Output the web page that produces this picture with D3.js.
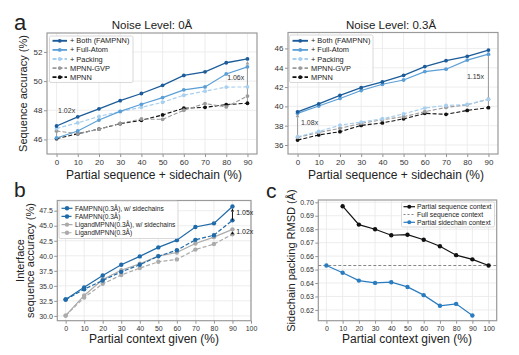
<!DOCTYPE html>
<html>
<head>
<meta charset="utf-8">
<script src="https://cdn.jsdelivr.net/npm/d3@7"></script>
<style>
  body { margin: 0; background: #fff; }
  svg { display: block; font-family: "Liberation Sans", Arial, Helvetica, sans-serif; }
</style>
</head>
<body>
<script>
// ---------------- DATA ----------------
const xA = [0, 10, 20, 30, 40, 50, 60, 70, 80, 90];
const xTicksA = [0, 10, 20, 30, 40, 50, 60, 70, 80, 90];
const yTicksALeft = [46, 48, 50, 52];
const yTicksARight = [36, 38, 40, 42, 44, 46];

const leftBoth     = [46.92, 47.55, 48.10, 48.66, 49.15, 49.71, 50.39, 50.64, 51.26, 51.52];
const leftFullAtom = [46.10, 46.58, 47.33, 47.92, 48.41, 48.87, 49.40, 49.60, 50.49, 50.98];
const leftPacking  = [46.75, 47.14, 47.58, 47.91, 48.20, 48.55, 49.03, 49.31, 49.59, 49.60];
const leftGvp      = [46.58, 46.39, 46.70, 47.10, 47.40, 47.38, 48.00, 48.46, 48.23, 48.97];
const leftMpnn     = [46.05, 46.39, 46.71, 47.08, 47.31, 47.68, 48.14, 48.20, 48.39, 48.48];

const rightBoth     = [39.44, 40.27, 41.15, 41.94, 42.53, 43.22, 44.12, 44.73, 45.18, 45.83];
const rightFullAtom = [39.28, 40.04, 40.82, 41.64, 42.29, 42.73, 43.60, 43.85, 44.79, 45.41];
const rightPacking  = [36.86, 37.40, 38.05, 38.38, 38.72, 39.22, 39.83, 40.09, 40.20, 40.75];
const rightGvp      = [36.79, 37.30, 37.73, 38.24, 38.62, 38.93, 39.45, 39.89, 40.17, 40.74];
const rightMpnn     = [36.51, 37.04, 37.38, 38.03, 38.29, 38.71, 39.28, 39.18, 39.58, 39.87];

const seriesNamesA = ["+ Both (FAMPNN)", "+ Full-Atom", "+ Packing", "MPNN-GVP", "MPNN"];

const xB = [0, 10, 20, 30, 40, 50, 60, 70, 80, 90];
const xTicksBC = [0, 10, 20, 30, 40, 50, 60, 70, 80, 90, 100];
const yTicksB = [30.0, 32.5, 35.0, 37.5, 40.0, 42.5, 45.0, 47.5];
const fampnnSc = [32.72, 34.75, 36.71, 38.50, 39.90, 41.40, 42.60, 44.80, 45.40, 48.20];
const fampnn   = [32.72, 34.43, 35.90, 37.33, 38.50, 39.93, 40.93, 42.65, 43.43, 45.90];
const ligandSc = [30.05, 33.40, 36.05, 37.60, 38.67, 39.95, 40.55, 42.05, 43.10, 44.40];
const ligand   = [30.05, 33.05, 35.33, 36.80, 37.95, 39.00, 39.40, 41.03, 41.95, 43.57];
const seriesNamesB = ["FAMPNN(0.3Å), w/ sidechains", "FAMPNN(0.3Å)", "LigandMPNN(0.3Å), w/ sidechains", "LigandMPNN(0.3Å)"];

const xSeq = [10, 20, 30, 40, 50, 60, 70, 80, 90, 100];
const seqContext = [0.6971, 0.6834, 0.6800, 0.6755, 0.6759, 0.6722, 0.6673, 0.6607, 0.6576, 0.6530];
const xSide = [0, 10, 20, 30, 40, 50, 60, 70, 80, 90];
const sideContext = [0.6530, 0.6476, 0.6418, 0.6401, 0.6406, 0.6371, 0.6310, 0.6231, 0.6245, 0.6159];
const fullSeqContext = 0.653;
const yTicksC = [0.62, 0.63, 0.64, 0.65, 0.66, 0.67, 0.68, 0.69, 0.70];
const seriesNamesC = ["Partial sequence context", "Full sequence context", "Partial sidechain context"];

// ---------------- DRAWING ----------------
const svg = d3.select("body").append("svg").attr("width", 519).attr("height", 355);
const TXT = "#222";

function makeAxes(o) {
  const x = d3.scaleLinear().domain(o.xdom).range([o.x0, o.x1]);
  const y = d3.scaleLinear().domain(o.ydom).range([o.y1, o.y0]);
  const g = svg.append("g");
  // grid
  g.selectAll(".gx").data(o.xticks).enter().append("line")
    .attr("x1", d => x(d)).attr("x2", d => x(d)).attr("y1", o.y0).attr("y2", o.y1)
    .attr("stroke", "#e8e8e8").attr("stroke-width", 0.8);
  g.selectAll(".gy").data(o.yticks).enter().append("line")
    .attr("y1", d => y(d)).attr("y2", d => y(d)).attr("x1", o.x0).attr("x2", o.x1)
    .attr("stroke", "#e8e8e8").attr("stroke-width", 0.8);
  // axes
  const ax = g.append("g").attr("transform", `translate(0,${o.y1})`)
    .call(d3.axisBottom(x).tickValues(o.xticks).tickSize(3).tickPadding(2).tickFormat(d3.format("d")));
  const ay = g.append("g").attr("transform", `translate(${o.x0},0)`)
    .call(d3.axisLeft(y).tickValues(o.yticks).tickSize(3).tickPadding(1.5).tickFormat(o.yfmt));
  [ax, ay].forEach(a => {
    a.select(".domain").remove();
    a.selectAll(".tick line").attr("stroke", "#777").attr("stroke-width", 0.8);
    a.selectAll(".tick text").attr("fill", "#333").style("font-size", o.tickFont + "px")
      .style("font-family", "'Liberation Sans', Arial, sans-serif");
  });
  // frame
  g.append("rect").attr("x", o.x0).attr("y", o.y0).attr("width", o.x1 - o.x0).attr("height", o.y1 - o.y0)
    .attr("fill", "none").attr("stroke", "#9a9a9a").attr("stroke-width", 1.2);
  return { x, y, g };
}

function drawSeries(ax, xs, ys, st) {
  const line = d3.line().x((d, i) => ax.x(xs[i])).y(d => ax.y(d));
  ax.g.append("path").datum(ys).attr("d", line).attr("fill", "none")
    .attr("stroke", st.color).attr("stroke-width", st.width)
    .attr("stroke-dasharray", st.dash || null);
  ax.g.selectAll(null).data(ys).enter().append("circle")
    .attr("cx", (d, i) => ax.x(xs[i])).attr("cy", d => ax.y(d)).attr("r", st.r).attr("fill", st.color);
}

function legend(box, items, font) {
  const g = svg.append("g");
  g.append("rect").attr("x", box.x).attr("y", box.y).attr("width", box.w).attr("height", box.h)
    .attr("rx", 1.5).attr("fill", "#fff").attr("fill-opacity", 0.85).attr("stroke", "#cfcfcf").attr("stroke-width", 0.8);
  items.forEach((it, i) => {
    const yy = box.firstY + i * box.step;
    g.append("line").attr("x1", box.hx0).attr("x2", box.hx1).attr("y1", yy).attr("y2", yy)
      .attr("stroke", it.color).attr("stroke-width", it.width).attr("stroke-dasharray", it.dash || null);
    if (it.r) g.append("circle").attr("cx", (box.hx0 + box.hx1) / 2).attr("cy", yy).attr("r", it.r).attr("fill", it.color);
    g.append("text").attr("x", box.tx).attr("y", yy).attr("dy", "0.35em").attr("fill", TXT)
      .style("font-size", font + "px").text(it.label);
  });
}

function upArrow(ax, xv, yLow, yHigh, color, head, width) {
  const px = ax.x(xv), pLow = ax.y(yLow), tip = ax.y(yHigh) + 2;
  ax.g.append("line").attr("x1", px).attr("x2", px).attr("y1", pLow).attr("y2", tip + head)
    .attr("stroke", color).attr("stroke-width", width);
  ax.g.append("path").attr("d", `M${px},${tip} L${px - head * 0.55},${tip + head} L${px + head * 0.55},${tip + head} Z`)
    .attr("fill", color);
}

function text(x, y, s, size, opts = {}) {
  const t = svg.append("text").attr("x", x).attr("y", y).attr("fill", opts.fill || TXT)
    .style("font-size", size + "px").attr("text-anchor", opts.anchor || "start").text(s);
  if (opts.rotate) t.attr("transform", `rotate(-90,${x},${y})`);
  return t;
}

// styles for panel a
const C_BOTH = "#1c5c9a", C_FULL = "#5b9fd6", C_PACK = "#a9cfee", C_GVP = "#9a9a9a", C_MPNN = "#111";
const stylesA = [
  { color: C_BOTH, width: 1.3, r: 1.9 },
  { color: C_FULL, width: 1.2, r: 1.9 },
  { color: C_PACK, width: 1.2, r: 1.9, dash: "4,2" },
  { color: C_GVP, width: 1.1, r: 1.9, dash: "4,2" },
  { color: C_MPNN, width: 1.1, r: 1.9, dash: "4,2" }
];

// ---- Panel a left ----
const aL = makeAxes({ x0: 47, x1: 257, y0: 33, y1: 154, xdom: [-4.5, 94.5], ydom: [45.0, 53.3],
  xticks: xTicksA, yticks: yTicksALeft, yfmt: d3.format("d"), tickFont: 8 });
upArrow(aL, 0, leftMpnn[0], leftBoth[0], "#a0a0a0", 3.5, 1.1);
upArrow(aL, 90, leftMpnn[9], leftBoth[9], "#a0a0a0", 3.5, 1.1);
[leftMpnn, leftGvp, leftPacking, leftFullAtom, leftBoth].forEach((s, i) => drawSeries(aL, xA, s, stylesA[4 - i]));
aL.g.append("text").attr("x", aL.x(0.7)).attr("y", aL.y(47.84)).attr("fill", "#333").style("font-size", "7px").text("1.02x");
aL.g.append("text").attr("x", aL.x(88.5)).attr("y", aL.y(50.07)).attr("fill", "#333").attr("text-anchor", "end").style("font-size", "7px").text("1.06x");
legend({ x: 49.5, y: 36, w: 83.5, h: 46.5, firstY: 40.8, step: 9.1, hx0: 52.5, hx1: 67, tx: 70 },
  seriesNamesA.map((l, i) => ({ label: l, ...stylesA[i], width: stylesA[i].width + 0.6 })), 7.4);

// ---- Panel a right ----
const aR = makeAxes({ x0: 288, x1: 498, y0: 32.5, y1: 154, xdom: [-4.5, 94.5], ydom: [35.07, 47.65],
  xticks: xTicksA, yticks: yTicksARight, yfmt: d3.format("d"), tickFont: 8 });
upArrow(aR, 0, rightMpnn[0], rightBoth[0], "#a0a0a0", 3.5, 1.1);
upArrow(aR, 90, rightMpnn[9], rightBoth[9], "#a0a0a0", 3.5, 1.1);
[rightMpnn, rightGvp, rightPacking, rightFullAtom, rightBoth].forEach((s, i) => drawSeries(aR, xA, s, stylesA[4 - i]));
aR.g.append("text").attr("x", aR.x(1.65)).attr("y", aR.y(38.1)).attr("fill", "#333").style("font-size", "7px").text("1.08x");
aR.g.append("text").attr("x", aR.x(87.9)).attr("y", aR.y(42.8)).attr("fill", "#333").attr("text-anchor", "end").style("font-size", "7px").text("1.15x");
legend({ x: 289.5, y: 35, w: 83.5, h: 47.5, firstY: 40.8, step: 9.1, hx0: 292.5, hx1: 308, tx: 311 },
  seriesNamesA.map((l, i) => ({ label: l, ...stylesA[i], width: stylesA[i].width + 0.6 })), 7.4);

// titles & labels panel a
text(14, 30, "a", 22);
text(152, 28.5, "Noise Level: 0Å", 11.5, { anchor: "middle" });
text(391, 28.5, "Noise Level: 0.3Å", 11.5, { anchor: "middle" });
text(26.5, 93.5, "Sequence accuracy (%)", 11, { anchor: "middle", rotate: true });
text(154, 178.5, "Partial sequence + sidechain (%)", 12, { anchor: "middle" });
text(396, 178.5, "Partial sequence + sidechain (%)", 12, { anchor: "middle" });

// ---- Panel b ----
const C_FAM = "#1f6aa8", C_LIG = "#ababab";
const stylesB = [
  { color: C_FAM, width: 1.2, r: 2.2 },
  { color: C_FAM, width: 1.2, r: 2.2, dash: "4,2" },
  { color: C_LIG, width: 1.2, r: 2.2 },
  { color: C_LIG, width: 1.2, r: 2.2, dash: "4,2" }
];
const pb = makeAxes({ x0: 57.3, x1: 251, y0: 200.5, y1: 320.7, xdom: [-4.5, 100], ydom: [29.2, 49.2],
  xticks: xTicksBC, yticks: yTicksB, yfmt: d3.format(".1f"), tickFont: 7 });
[ligand, ligandSc, fampnn, fampnnSc].forEach((s, i) => drawSeries(pb, xB, s, stylesB[3 - i]));
upArrow(pb, 90, fampnn[9], fampnnSc[9], "#111", 3, 1);
upArrow(pb, 90, ligand[9], ligandSc[9], "#111", 3, 1);
pb.g.append("text").attr("x", pb.x(92)).attr("y", pb.y(46.8)).attr("fill", "#222").style("font-size", "7px").text("1.05x");
pb.g.append("text").attr("x", pb.x(92)).attr("y", pb.y(43.6)).attr("fill", "#222").style("font-size", "7px").text("1.02x");
legend({ x: 59, y: 201, w: 119, h: 37.5, firstY: 208.3, step: 8.15, hx0: 61.5, hx1: 72.5, tx: 75 },
  seriesNamesB.map((l, i) => ({ label: l, ...stylesB[i] })), 6.6);
text(14, 197, "b", 21);
const ylb = svg.append("text").attr("transform", "translate(23.5,260.5) rotate(-90)").attr("fill", TXT)
  .attr("text-anchor", "middle").style("font-size", "11px");
ylb.append("tspan").attr("x", 0).attr("y", 0).text("Interface");
ylb.append("tspan").attr("x", 0).attr("y", 10.5).text("sequence accuracy (%)");
text(154, 343, "Partial context given (%)", 12, { anchor: "middle" });

// ---- Panel c ----
const C_SIDE = "#2a7cc0";
const pc = makeAxes({ x0: 318.3, x1: 496.7, y0: 200, y1: 320.7, xdom: [-5, 105], ydom: [0.612, 0.7017],
  xticks: xTicksBC, yticks: yTicksC, yfmt: d3.format(".2f"), tickFont: 7 });
pc.g.append("line").attr("x1", pc.x(-5)).attr("x2", pc.x(105)).attr("y1", pc.y(fullSeqContext)).attr("y2", pc.y(fullSeqContext))
  .attr("stroke", "#777").attr("stroke-width", 0.9).attr("stroke-dasharray", "3,2");
drawSeries(pc, xSide, sideContext, { color: C_SIDE, width: 1.2, r: 2.2 });
drawSeries(pc, xSeq, seqContext, { color: "#111", width: 1.2, r: 2.2 });
legend({ x: 401.5, y: 202, w: 93, h: 25, firstY: 206.7, step: 7.8, hx0: 403.5, hx1: 415, tx: 417 },
  [{ label: seriesNamesC[0], color: "#111", width: 1.2, r: 2 },
   { label: seriesNamesC[1], color: "#777", width: 0.9, dash: "2,2" },
   { label: seriesNamesC[2], color: C_SIDE, width: 1.2, r: 2 }], 6.8);
text(266, 198, "c", 21);
text(295, 260.5, "Sidechain packing RMSD (Å)", 11, { anchor: "middle", rotate: true });
text(407, 343, "Partial context given (%)", 12, { anchor: "middle" });
</script>
</body>
</html>
